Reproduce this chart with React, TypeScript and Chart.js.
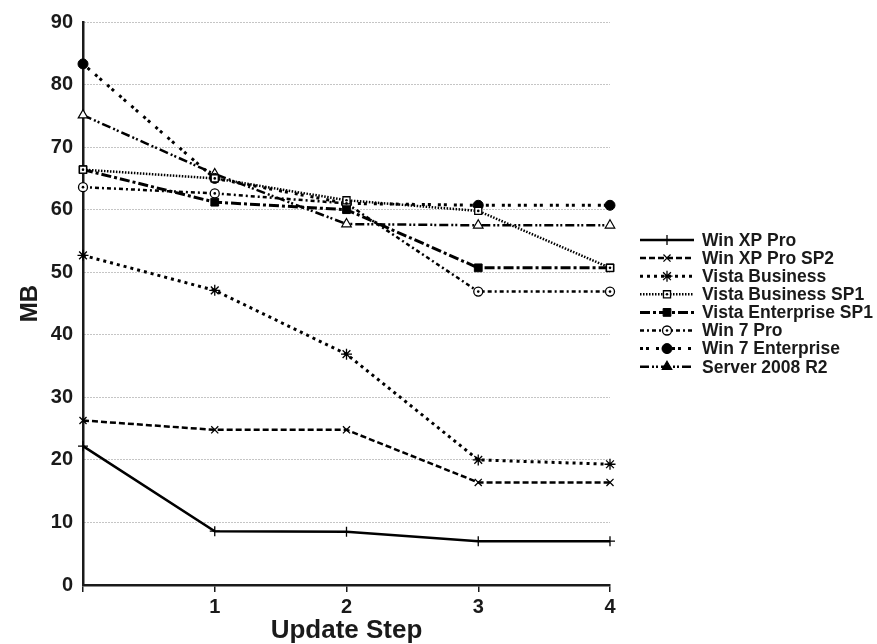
import React, { useEffect, useRef } from 'react';
import { Chart, registerables, PointElement } from 'chart.js';

Chart.register(...registerables);

// ---- data ----
const steps = [0, 1, 2, 3, 4];
const xTickLabels = ['', '1', '2', '3', '4'];
const seriesNames = [
  'Win XP Pro',
  'Win XP Pro SP2',
  'Vista Business',
  'Vista Business SP1',
  'Vista Enterprise SP1',
  'Win 7 Pro',
  'Win 7 Enterprise',
  'Server 2008 R2',
];
const winXpPro = [22.2, 8.6, 8.5, 7.0, 7.0];
const winXpProSp2 = [26.3, 24.8, 24.8, 16.4, 16.4];
const vistaBusiness = [52.7, 47.1, 36.9, 20.0, 19.3];
const vistaBusinessSp1 = [66.4, 65.0, 61.5, 59.8, 50.7];
const vistaEnterpriseSp1 = [66.4, 61.2, 60.0, 50.7, 50.7];
const win7Pro = [63.6, 62.6, 61.0, 46.9, 46.9];
const win7Enterprise = [83.3, 65.0, 61.0, 60.7, 60.7];
const server2008R2 = [75.1, 65.7, 57.7, 57.5, 57.5];

const seriesValues = [
  winXpPro,
  winXpProSp2,
  vistaBusiness,
  vistaBusinessSp1,
  vistaEnterpriseSp1,
  win7Pro,
  win7Enterprise,
  server2008R2,
];

// ---- styles ----
const FONT = '"Liberation Sans", Arial, sans-serif';
const INK = '#1a1a1a';
const seriesStyles = [
  { dash: [], width: 2.5, point: 'cross', radius: 5, pbw: 1.3, fill: '#000', legendFill: '#000' },
  { dash: [6, 3], width: 2.5, point: 'crossRot', radius: 5, pbw: 1.3, fill: '#000', legendFill: '#000' },
  { dash: [3, 4], width: 3, point: 'star', radius: 5.5, pbw: 1.3, fill: '#000', legendFill: '#000' },
  { dash: [1.5, 1.5], width: 2.5, point: 'rect', radius: 5, pbw: 1.3, fill: '#fff', legendFill: '#fff', dot: true },
  { dash: [10, 3, 3, 3], width: 3, point: 'rect', radius: 5.5, pbw: 1, fill: '#000', legendFill: '#000' },
  { dash: [4, 3, 2, 3], width: 2.5, point: 'circle', radius: 4.5, pbw: 1.3, fill: '#fff', legendFill: '#fff', dot: true },
  { dash: [3, 3, 3, 7], width: 3, point: 'circle', radius: 5, pbw: 1, fill: '#000', legendFill: '#000' },
  { dash: [9, 3, 2, 2, 2, 3], width: 2.5, point: 'triangle', radius: 5.5, pbw: 1.2, fill: '#fff', legendFill: '#000' },
];

const legendPlugin = {
  id: 'lineSampleLegend',
  afterDatasetsDraw(chart: any) {
    const ctx = chart.ctx;
    ctx.save();
    chart.data.datasets.forEach((ds: any, i: number) => {
      const st = seriesStyles[i];
      if (!st.dot) return;
      const meta = chart.getDatasetMeta(i);
      meta.data.forEach((el: any) => {
        ctx.beginPath();
        ctx.fillStyle = '#000';
        ctx.arc(el.x, el.y, 1.3, 0, Math.PI * 2);
        ctx.fill();
      });
    });
    ctx.restore();
  },
  afterDraw(chart: any) {
    const ctx = chart.ctx;
    ctx.save();
    const x1 = 640;
    const x2 = 694;
    const top = 240;
    const rowH = 18.1;
    chart.data.datasets.forEach((ds: any, i: number) => {
      const st = seriesStyles[i];
      const y = top + i * rowH;
      ctx.beginPath();
      ctx.setLineDash(st.dash);
      ctx.lineWidth = st.width;
      ctx.strokeStyle = '#000';
      ctx.moveTo(x1, y);
      ctx.lineTo(x2, y);
      ctx.stroke();
      ctx.setLineDash([]);
      const pt: any = new (PointElement as any)({
        x: (x1 + x2) / 2,
        y,
        options: {
          pointStyle: st.point,
          radius: st.radius,
          borderWidth: st.pbw,
          borderColor: '#000',
          backgroundColor: st.legendFill,
          rotation: 0,
          hitRadius: 0,
        },
      });
      pt.draw(ctx, { left: 0, top: 0, right: 5000, bottom: 5000 });
      if (st.dot) {
        ctx.beginPath();
        ctx.fillStyle = '#000';
        ctx.arc((x1 + x2) / 2, y, 1.3, 0, Math.PI * 2);
        ctx.fill();
      }
      ctx.fillStyle = INK;
      ctx.font = `bold 17.5px ${FONT}`;
      ctx.textBaseline = 'middle';
      ctx.textAlign = 'left';
      ctx.fillText(ds.label, 702, y + 1);
    });
    ctx.restore();
  },
};

export default function App() {
  const canvasRef = useRef<HTMLCanvasElement | null>(null);

  useEffect(() => {
    document.body.style.margin = '0';
    const canvas = canvasRef.current;
    if (!canvas) return;
    const datasets = seriesNames.map((name, i) => {
      const st = seriesStyles[i];
      return {
        label: name,
        data: steps.map((s, j) => ({ x: s, y: seriesValues[i][j] })),
        borderColor: '#000',
        backgroundColor: st.fill,
        borderWidth: st.width,
        borderDash: st.dash,
        pointStyle: st.point,
        pointRadius: st.radius,
        pointBorderWidth: st.pbw,
        pointBorderColor: '#000',
        pointBackgroundColor: st.fill,
        tension: 0,
        fill: false,
        clip: false as any,
      };
    });

    const chart = new Chart(canvas, {
      type: 'line',
      data: { datasets: datasets as any },
      options: {
        animation: false,
        responsive: true,
        maintainAspectRatio: false,
        layout: { padding: { left: 0, right: 267, top: 18, bottom: 0 } },
        plugins: {
          legend: { display: false },
          tooltip: { enabled: false },
        },
        scales: {
          x: {
            type: 'linear',
            min: 0,
            max: 4,
            afterFit: (scale: any) => {
              scale.height = 59;
            },
            ticks: {
              stepSize: 1,
              padding: 3,
              color: INK,
              font: { family: FONT, size: 20, weight: 'bold' },
              callback: (v: any) => xTickLabels[steps.indexOf(Number(v))] ?? '',
              maxRotation: 0,
            },
            grid: {
              drawOnChartArea: false,
              drawTicks: true,
              tickLength: 7,
              color: INK,
              lineWidth: 1.5,
            },
            border: { display: true, color: INK, width: 2.5 },
            title: {
              display: true,
              text: 'Update Step',
              color: INK,
              font: { family: FONT, size: 26, weight: 'bold' },
              padding: { top: 0, bottom: -2 },
            },
          },
          y: {
            type: 'linear',
            min: 0,
            max: 90,
            afterFit: (scale: any) => {
              scale.width = 83;
            },
            ticks: {
              stepSize: 10,
              padding: 10,
              color: INK,
              font: { family: FONT, size: 20, weight: 'bold' },
            },
            grid: {
              drawTicks: false,
              color: '#8a8a8a',
              lineWidth: 1,
            },
            border: { display: true, color: INK, width: 2.5, dash: [1, 2] },
            title: {
              display: true,
              text: 'MB',
              color: INK,
              font: { family: FONT, size: 24, weight: 'bold' },
              padding: { top: 16, bottom: 0 },
            },
          },
        },
      },
      plugins: [legendPlugin],
    });
    return () => chart.destroy();
  }, []);

  return (
    <div style={{ position: 'absolute', left: 0, top: 0, width: 877, height: 644 }}>
      <canvas ref={canvasRef} />
    </div>
  );
}
